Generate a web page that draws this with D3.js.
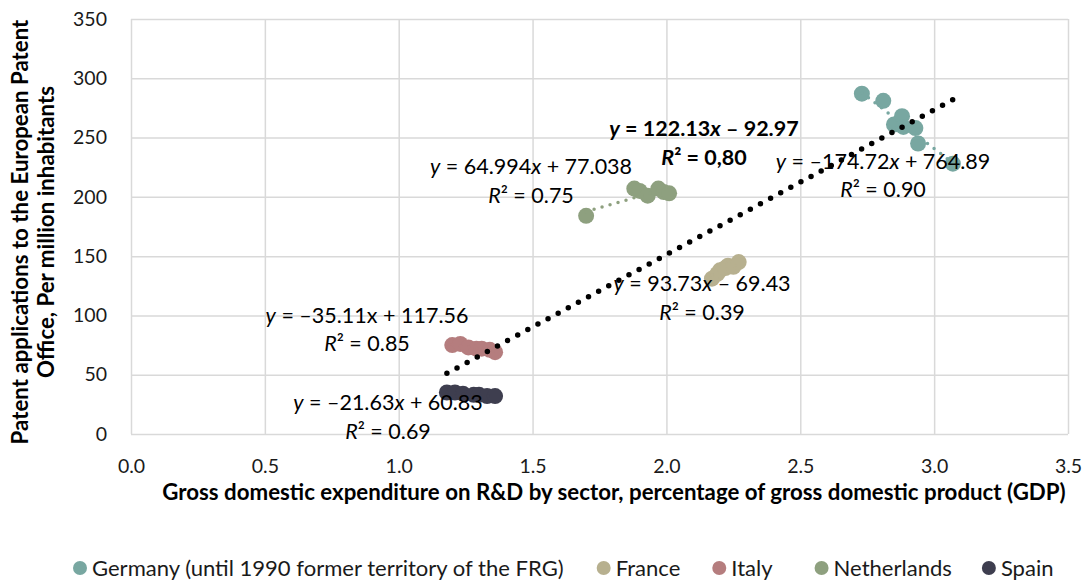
<!DOCTYPE html>
<html><head><meta charset="utf-8">
<script src="https://cdn.jsdelivr.net/npm/d3@7"></script>
<style>
body{margin:0;background:#fff;}
svg{display:block;font-family:Lato,"Noto Sans",sans-serif;}
</style></head><body>
<svg id="chart" width="1086" height="584"></svg>
<script>
// ---------- DATA ----------
const countries = ["Germany (until 1990 former territory of the FRG)", "France", "Italy", "Netherlands", "Spain"];
const germanyX = [2.73, 2.81, 2.85, 2.88, 2.885, 2.93, 2.94, 3.07];
const germanyY = [287, 281, 261, 268, 259, 258, 245, 228];
const franceX = [2.17, 2.19, 2.20, 2.22, 2.23, 2.25, 2.27];
const franceY = [131, 135, 138, 140, 142, 141, 145];
const italyX = [1.20, 1.23, 1.26, 1.29, 1.31, 1.34, 1.36];
const italyY = [75, 76, 73, 72, 72, 71, 69];
const netherlandsX = [1.70, 1.88, 1.90, 1.93, 1.97, 1.99, 2.01];
const netherlandsY = [184, 207, 205, 201, 207, 204, 203];
const spainX = [1.18, 1.21, 1.24, 1.28, 1.30, 1.33, 1.36];
const spainY = [35, 35, 34, 33, 33, 32, 32];

const trendSlopes = [-174.72, 93.73, -35.11, 64.994, -21.63];
const trendIntercepts = [764.89, -69.43, 117.56, 77.038, 60.83];
const eqLabels = ["y = –174.72x + 764.89", "y = 93.73x – 69.43", "y = –35.11x + 117.56", "y = 64.994x + 77.038", "y = –21.63x + 60.83"];
const r2Labels = ["R² = 0.90", "R² = 0.39", "R² = 0.85", "R² = 0.75", "R² = 0.69"];

const overallSlope = 122.13, overallIntercept = -92.97;
const overallEq = "y = 122.13x – 92.97";
const overallR2 = "R² = 0,80";

const xTicks = [0, 0.5, 1.0, 1.5, 2.0, 2.5, 3.0, 3.5];
const yTicks = [0, 50, 100, 150, 200, 250, 300, 350];
const xTitle = "Gross domestic expenditure on R&D by sector, percentage of gross domestic product (GDP)";
const yTitleLines = ["Patent applications to the European Patent", "Office, Per million inhabitants"];

// ---------- STYLE / LAYOUT ----------
const colors = ["#78A7A1", "#B7B08F", "#B57D7E", "#8EA07F", "#3E3E4F"];
const plot = {left: 131, right: 1068, top: 19, bottom: 434};
// label anchor: centre x, centre y of line 1 and line 2 (pixels)
const labelPos = [
  {cx: 883, c1: 161, c2: 189},
  {cx: 702, c1: 283, c2: 312},
  {cx: 367, c1: 315, c2: 343},
  {cx: 531, c1: 166, c2: 195},
  {cx: 388, c1: 402, c2: 431}
];
const overallPos = {cx: 704, c1: 128, c2: 157};
const italicX = [true, true, false, true, true];
const legendGaps = [40, 39, 49, 37];

const seriesX = [germanyX, franceX, italyX, netherlandsX, spainX];
const seriesY = [germanyY, franceY, italyY, netherlandsY, spainY];

const svg = d3.select("#chart");
const x = d3.scaleLinear().domain([0, 3.5]).range([plot.left, plot.right]);
const y = d3.scaleLinear().domain([0, 350]).range([plot.bottom, plot.top]);

// grid
const grid = svg.append("g");
grid.append("g").attr("transform", `translate(0,${plot.bottom})`)
  .call(d3.axisBottom(x).tickValues(xTicks).tickSize(-(plot.bottom - plot.top)).tickFormat(""))
  .call(g => g.select(".domain").remove());
grid.append("g").attr("transform", `translate(${plot.left},0)`)
  .call(d3.axisLeft(y).tickValues(yTicks).tickSize(-(plot.right - plot.left)).tickFormat(""))
  .call(g => g.select(".domain").remove());
grid.selectAll("line").attr("stroke", "#D9D9D9").attr("stroke-width", 1.5);

// axes labels
const xa = svg.append("g").attr("transform", `translate(0,${plot.bottom})`)
  .call(d3.axisBottom(x).tickValues(xTicks).tickSize(0).tickPadding(25).tickFormat(d3.format(".1f")));
const ya = svg.append("g").attr("transform", `translate(${plot.left},0)`)
  .call(d3.axisLeft(y).tickValues(yTicks).tickSize(0).tickPadding(24).tickFormat(d3.format("d")));
[xa, ya].forEach(a => {
  a.select(".domain").remove();
  a.selectAll("text").attr("font-family", "Lato").attr("font-size", 19.5).attr("fill", "#1a1a1a");
});

// titles
const xt = svg.append("text").attr("x", 614).attr("y", 500).attr("text-anchor", "middle")
  .attr("font-weight", "bold").attr("font-size", 19).attr("fill", "#000").text(xTitle);
function fit(sel, target) {
  const w = sel.node().getComputedTextLength();
  const fs = parseFloat(sel.attr("font-size"));
  const nf = fs * target / w;
  sel.attr("font-size", nf);
  return nf;
}
const titleSize = fit(xt, 904);
yTitleLines.forEach((t, i) => {
  svg.append("text").attr("transform", `translate(${[28, 54][i]},232) rotate(-90)`)
    .attr("text-anchor", "middle").attr("font-weight", "bold").attr("font-size", titleSize)
    .attr("fill", "#000").text(t);
});

// markers
seriesX.forEach((xs, s) => {
  svg.append("g").selectAll("circle").data(xs.map((v, i) => [v, seriesY[s][i]])).join("circle")
    .attr("cx", d => x(d[0])).attr("cy", d => y(d[1])).attr("r", 8).attr("fill", colors[s]);
});

// series trendlines
const line = d3.line().x(d => x(d[0])).y(d => y(d[1]));
seriesX.forEach((xs, s) => {
  const [a, b] = d3.extent(xs);
  const pts = [a, b].map(v => [v, trendSlopes[s] * v + trendIntercepts[s]]);
  svg.append("path").attr("d", line(pts)).attr("fill", "none").attr("stroke", colors[s])
    .attr("stroke-width", 3.5).attr("stroke-linecap", "round").attr("stroke-dasharray", "0 8.3");
});
// overall trendline
const allX = seriesX.flat();
const [ax0, ax1] = d3.extent(allX);
svg.append("path").attr("d", line([ax0, ax1].map(v => [v, overallSlope * v + overallIntercept])))
  .attr("fill", "none").attr("stroke", "#000").attr("stroke-width", 5.5)
  .attr("stroke-linecap", "round").attr("stroke-dasharray", "0 11.5");

// equation labels
function richText(g, str, cx, cy, size, bold, italX) {
  const t = g.append("text").attr("x", cx).attr("y", cy).attr("dy", "0.35em")
    .attr("text-anchor", "middle").attr("font-size", size).attr("fill", "#000")
    .attr("font-weight", bold ? "bold" : "normal");
  const parts = str.split(/(y|x|R)/).filter(p => p.length);
  parts.forEach(p => {
    const it = (p === "y" || p === "R" || (p === "x" && italX));
    t.append("tspan").attr("font-style", it ? "italic" : "normal").text(p);
  });
  return t;
}
const eqG = svg.append("g");
const eqSize = 21.5;
labelPos.forEach((p, s) => {
  richText(eqG, eqLabels[s], p.cx, p.c1, eqSize, false, italicX[s]);
  richText(eqG, r2Labels[s], p.cx, p.c2, eqSize, false, true);
});
richText(eqG, overallEq, overallPos.cx, overallPos.c1, eqSize, true, true);
richText(eqG, overallR2, overallPos.cx, overallPos.c2, eqSize, true, true);

// legend
const lg = svg.append("g");
const items = countries.map((c, i) => {
  const g = lg.append("g");
  g.append("circle").attr("r", 7).attr("cy", 568).attr("fill", colors[i]);
  const t = g.append("text").attr("y", 568).attr("dy", "0.35em").attr("font-size", 19).attr("fill", "#1a1a1a").text(c);
  return {g, t};
});
const legSize = fit(items[0].t, 472);
items.forEach(it => it.t.attr("font-size", legSize));
const widths = items.map(it => 12 + it.t.node().getComputedTextLength());
let cur = 80;
items.forEach((it, i) => {
  it.g.select("circle").attr("cx", cur);
  it.t.attr("x", cur + 12);
  cur += widths[i] + (legendGaps[i] || 0);
});
</script>
</body></html>
